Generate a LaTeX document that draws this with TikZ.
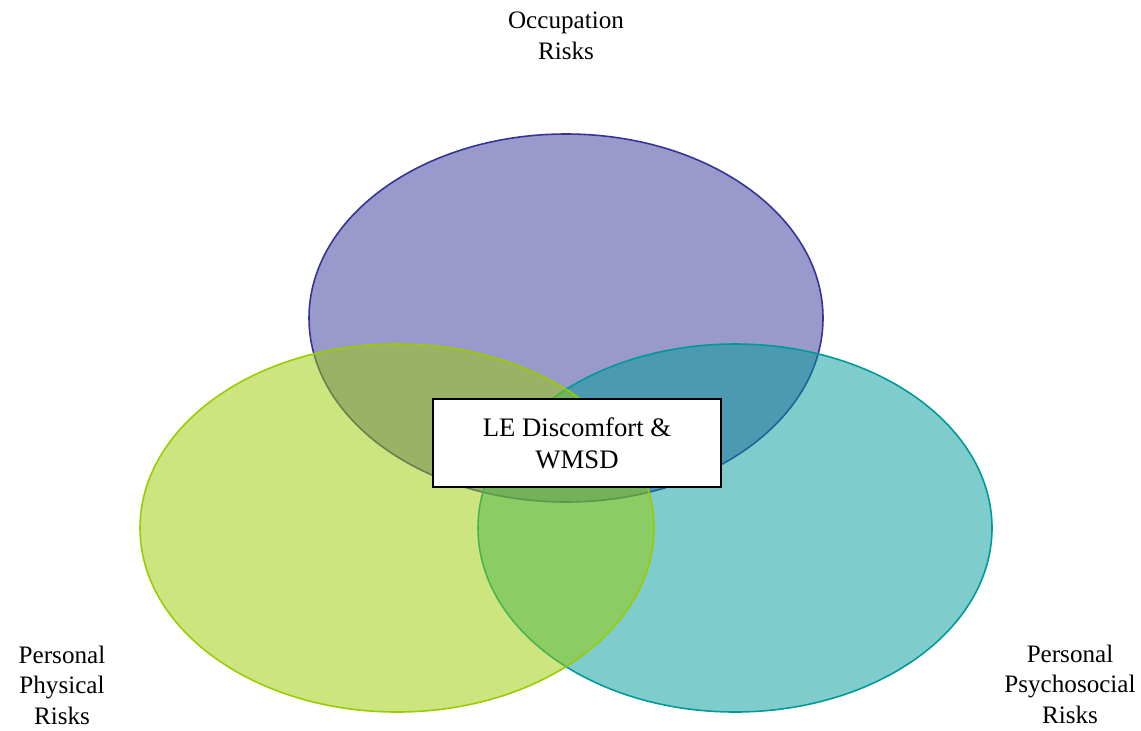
\documentclass[tikz,border=0pt]{standalone}
\usepackage{fontspec}
\setmainfont{Liberation Serif}
\definecolor{occ}{HTML}{333399}
\definecolor{phys}{HTML}{99CC00}
\definecolor{psy}{HTML}{009999}
\tikzset{risk/.style={line width=0.9pt,fill opacity=0.5},
	lbl/.style={align=center,font=\fontsize{14.3}{17.4}\selectfont}}
\begin{document}
\begin{tikzpicture}[x=0.02cm,y=-0.02cm]
	\useasboundingbox (0,0) rectangle (1141,730);
	\draw[risk,draw=occ,fill=occ] (566,318) ellipse [x radius=257,y radius=184];
	\draw[risk,draw=psy,fill=psy] (735,528) ellipse [x radius=257,y radius=184];
	\draw[risk,draw=phys,fill=phys] (397,528) ellipse [x radius=257,y radius=184];
	\node[lbl,font=\fontsize{15.2}{18.4}\selectfont,draw=black,line width=1.2pt,fill=white,minimum width=288*0.02cm,minimum height=88*0.02cm] (wmsd) at (577,443) {LE Discomfort \&\\WMSD};
	\node[lbl] (occl) at (566,36) {Occupation\\Risks};
	\node[lbl] (physl) at (62,685) {Personal\\Physical\\Risks};
	\node[lbl] (psyl) at (1070,684) {Personal\\Psychosocial\\Risks};
\end{tikzpicture}
\end{document}
